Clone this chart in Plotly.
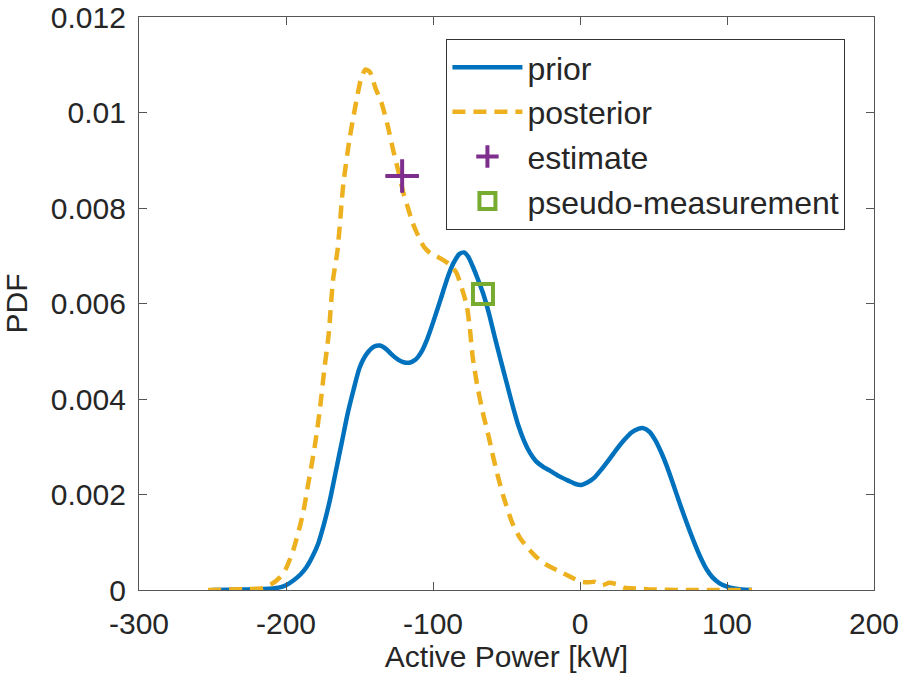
import plotly.graph_objects as go

# Prior PDF of active power (kW)
prior_x = [-250, -230, -215, -205, -200, -195, -190, -186, -182, -178, -174, -170,
           -166, -162, -158, -154, -150, -145, -140, -136, -132, -128, -124, -120,
           -116, -112, -108, -104, -100, -95, -90, -86, -82, -79, -76, -73, -70, -66,
           -62, -58, -54, -50, -46, -42, -38, -34, -30, -25, -20, -14, -8, -3, 1, 5,
           10, 15, 20, 25, 30, 35, 40, 43, 47, 51, 55, 59, 63, 68, 73, 78, 82, 86, 90,
           95, 100, 105, 110, 117]
prior_y = [0, 0.00001, 0.00002, 0.00005, 0.0001, 0.0002, 0.00033, 0.00048, 0.0007,
           0.00098, 0.0014, 0.0019, 0.0025, 0.0031, 0.0037, 0.0042, 0.00465, 0.00495,
           0.0051, 0.00512, 0.00505, 0.00493, 0.00483, 0.00477, 0.00476, 0.00482,
           0.00498, 0.00525, 0.0056, 0.00607, 0.00655, 0.00685, 0.00704, 0.00707,
           0.00698, 0.00678, 0.00655, 0.00622, 0.0058, 0.0053, 0.00482, 0.00435,
           0.00388, 0.00345, 0.00312, 0.00287, 0.0027, 0.00258, 0.00249, 0.00238,
           0.00229, 0.00222, 0.0022, 0.00225, 0.00236, 0.00254, 0.00274, 0.00295,
           0.00314, 0.0033, 0.00338, 0.00339, 0.00332, 0.00315, 0.0029, 0.0026,
           0.00225, 0.0018, 0.00137, 0.00097, 0.00068, 0.00044, 0.00027, 0.00014,
           0.00007, 0.00003, 0.00001, 0]

# Posterior PDF
post_x = [-253, -240, -225, -216, -210, -204, -200, -195, -190, -188, -185, -182,
          -180, -177, -174, -171, -168, -165, -161, -157, -153, -149, -146, -143, -139,
          -135, -131, -127, -123, -120, -117, -114, -111, -106, -102, -97, -93, -88,
          -84, -80, -77, -75, -73, -70, -66, -62, -59, -56, -52, -46, -41, -36, -30,
          -25, -18, -12, -5, 0, 5, 10, 15, 20, 25, 30, 40, 50, 70, 117]
post_y = [0, 0.00001, 0.00002, 0.00004, 0.00012, 0.00027, 0.00045, 0.00084, 0.0014,
          0.00167, 0.0022, 0.00272, 0.0031, 0.00377, 0.0046, 0.00535, 0.0065, 0.0071,
          0.0085, 0.0094, 0.0101, 0.0107, 0.0109, 0.01085, 0.0105, 0.0102, 0.00975,
          0.0092, 0.0087, 0.0083, 0.008, 0.0077, 0.00748, 0.00718, 0.00706, 0.00698,
          0.00691, 0.0068, 0.00664, 0.00628, 0.00595, 0.0055, 0.00488, 0.0043, 0.0037,
          0.0032, 0.00278, 0.0024, 0.00195, 0.0014, 0.0011, 0.0009, 0.0007, 0.00057,
          0.00045, 0.00036, 0.00025, 0.00018, 0.00016, 0.00017, 0.0001, 0.00015,
          0.00012, 0.00005, 0.00003, 0.00001, 0, 0]

# Point estimate and pseudo-measurement
estimate_x = [-121]
estimate_y = [0.00867]
pseudo_x = [-66]
pseudo_y = [0.0062]

# Axis ticks
x_ticks = [-300, -200, -100, 0, 100, 200]
x_ticktext = ["-300", "-200", "-100", "0", "100", "200"]
y_ticks = [0, 0.002, 0.004, 0.006, 0.008, 0.01, 0.012]
y_ticktext = ["0", "0.002", "0.004", "0.006", "0.008", "0.01", "0.012"]

BLUE = "#0072BD"
ORANGE = "#EDB120"
PURPLE = "#7E2F8E"
GREEN = "#77AC30"
TEXT = "#262626"
AXIS = "#555555"
FONT = "Liberation Sans, Arial, Helvetica, sans-serif"
FS = 30

fig = go.Figure()
fig.add_trace(go.Scatter(x=prior_x, y=prior_y, mode="lines", name="prior",
                         line=dict(color=BLUE, width=4.5, shape="spline", smoothing=0.6)))
fig.add_trace(go.Scatter(x=post_x, y=post_y, mode="lines", name="posterior",
                         line=dict(color=ORANGE, width=4.5, shape="spline", smoothing=0.6,
                                   dash="13px,8px")))
fig.add_trace(go.Scatter(x=estimate_x, y=estimate_y, mode="markers", name="estimate",
                         marker=dict(symbol="cross-thin", size=24, color=PURPLE,
                                     line=dict(color=PURPLE, width=4))))
fig.add_trace(go.Scatter(x=pseudo_x, y=pseudo_y, mode="markers", name="pseudo-measurement",
                         marker=dict(symbol="square-open", size=20, color=GREEN,
                                     line=dict(color=GREEN, width=4))))

axis_common = dict(
    showline=True, linecolor=AXIS, linewidth=1.2, mirror="ticks",
    ticks="inside", ticklen=8, tickwidth=1.2, tickcolor=AXIS,
    showgrid=False, zeroline=False, automargin=False,
    tickfont=dict(family=FONT, size=FS, color=TEXT),
)

fig.update_layout(
    width=904, height=685,
    margin=dict(l=139, r=30, t=17, b=95),
    paper_bgcolor="white", plot_bgcolor="white",
    font=dict(family=FONT, size=FS, color=TEXT),
    xaxis=dict(range=[-300, 200], tickvals=x_ticks, ticktext=x_ticktext,
               ticklabelstandoff=7,
               title=dict(text="Active Power [kW]", font=dict(family=FONT, size=FS, color=TEXT),
                          standoff=5),
               **axis_common),
    yaxis=dict(range=[0, 0.012], tickvals=y_ticks, ticktext=y_ticktext,
               ticklabelstandoff=6,
               title=dict(text="PDF", font=dict(family=FONT, size=FS, color=TEXT),
                          standoff=14),
               **axis_common),
    legend=dict(x=0.418, y=0.962, xanchor="left", yanchor="top",
                bgcolor="white", bordercolor="#333333", borderwidth=1.2,
                font=dict(family=FONT, size=32, color=TEXT),
                itemwidth=70, tracegroupgap=0),
    showlegend=True,
)

fig.write_html("out.html")
